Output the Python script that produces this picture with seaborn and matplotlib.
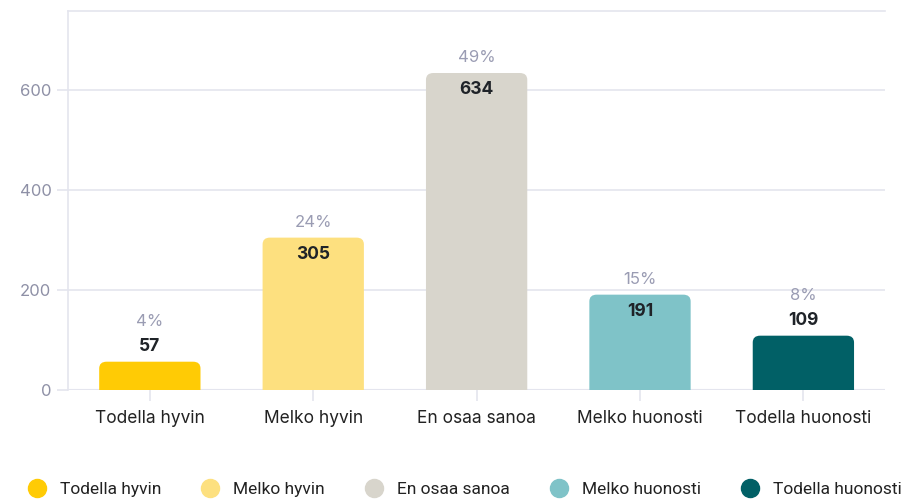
import matplotlib
matplotlib.use("Agg")
import matplotlib.pyplot as plt
from matplotlib.lines import Line2D
from matplotlib.patches import FancyBboxPatch
import seaborn as sns
import pandas as pd

# data
categories = ["Todella hyvin", "Melko hyvin", "En osaa sanoa", "Melko huonosti", "Todella huonosti"]
counts = [57, 305, 634, 191, 109]
shares = ["4%", "24%", "49%", "15%", "8%"]
colors = ["#FFCB05", "#FDE07F", "#D8D5CC", "#7FC3C8", "#016066"]
yticks = [0, 200, 400, 600]

sns.set_theme(style="white")
plt.rcParams["font.family"] = ["Inter", "DejaVu Sans"]

df = pd.DataFrame({"Vastaus": categories, "Lukumäärä": counts})

fig = plt.figure(figsize=(9.21, 4.99), dpi=100)
ax = fig.add_axes([0.074, 0.218, 0.887, 0.760])

sns.barplot(data=df, x="Vastaus", y="Lukumäärä", hue="Vastaus",
            palette=colors, width=0.62, legend=False, ax=ax, saturation=1,
            edgecolor="none", linewidth=0)

ax.set_xlim(-0.5, 4.5)
ax.set_ylim(0, 758)
ax.set_yticks(yticks)
ax.set_xlabel("")
ax.set_ylabel("")

# rounded top corners: swap each bar for a rounded box whose bottom is clipped below 0
for p in list(ax.patches):
    x, y, w, h = p.get_x(), p.get_y(), p.get_width(), p.get_height()
    fc = p.get_facecolor()
    p.set_visible(False)
    ax.add_patch(FancyBboxPatch((x, y - 40), w, h + 40,
                                boxstyle="round,pad=0,rounding_size=0.045",
                                mutation_aspect=300, facecolor=fc, edgecolor="none", zorder=2))

grid_c = "#E4E5EE"
ax.grid(axis="y", color=grid_c, linewidth=1.2)
ax.set_axisbelow(True)
for side in ["right", "bottom"]:
    ax.spines[side].set_visible(False)
for side in ["left", "top"]:
    ax.spines[side].set_color(grid_c)
    ax.spines[side].set_linewidth(1.2)
ax.axhline(0, color=grid_c, linewidth=1.5, zorder=0.5)

ax.tick_params(axis="y", labelcolor="#8E90A6", labelsize=12, length=8, width=1.2,
               color=grid_c, left=True, pad=4)
ax.tick_params(axis="x", labelsize=12.5, labelcolor="#222222", length=8, width=1.2,
               color=grid_c, bottom=True, pad=6)

# labels: count inside tall bars, above short ones; share always on top
for i, (v, s) in enumerate(zip(counts, shares)):
    if v > 150:
        off_n, off_s = -12, 11
    else:
        off_n, off_s = 11, 29
    ax.annotate(str(v), (i, v), xytext=(0, off_n), textcoords="offset points",
                ha="center", va="center", fontsize=12.5, fontweight="bold",
                color="#1F2328", zorder=3)
    ax.annotate(s, (i, v), xytext=(0, off_s), textcoords="offset points",
                ha="center", va="center", fontsize=12, color="#9A9CB3")

handles = [Line2D([0], [0], marker="o", linestyle="", markersize=13,
                  markerfacecolor=c, markeredgecolor=c, label=n)
           for c, n in zip(colors, categories)]
fig.legend(handles=handles, loc="center", bbox_to_anchor=(0.5, 0.02),
           ncol=5, frameon=False, handletextpad=0.35, columnspacing=1.8,
           prop={"family": ["Roboto", "DejaVu Sans"], "size": 12.5},
           labelcolor="#222222")

fig.savefig("out.png", dpi=100)
